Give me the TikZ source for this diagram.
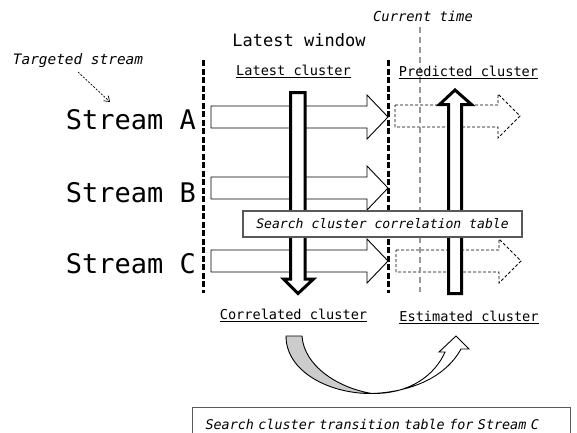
\documentclass[tikz,border=0pt]{standalone}
\usepackage{fontspec}
\setmainfont{DejaVu Sans Mono}
\usetikzlibrary{arrows.meta}

% horizontal block arrow: left x, head base x, tip x, centre y
\newcommand\blockarrow[5][]{%
  \draw[#1] ({#2},{#5-11}) -- ({#3},{#5-11}) -- ({#3},{#5-22}) -- ({#4},{#5})
    -- ({#3},{#5+22}) -- ({#3},{#5+11}) -- ({#2},{#5+11}) -- cycle;}

\begin{document}
\begin{tikzpicture}[x=1pt,y=-1pt,
  lbl/.style={inner sep=0pt, anchor=base, font=\fontsize{13.6}{15}\selectfont},
  note/.style={inner sep=0pt, anchor=base, font=\fontsize{14}{16}\selectfont\itshape},
  streamlbl/.style={inner sep=0pt, anchor=base east, font=\fontsize{27}{30}\selectfont},
  flow/.style={draw=black, line width=0.9pt, fill=white, line join=miter},
  flowdash/.style={draw=black, line width=0.8pt, dash pattern=on 3pt off 2pt},
  bigarrow/.style={draw=black, line width=3pt, fill=white, line join=miter},
  window/.style={draw=black, line width=3pt, dash pattern=on 6pt off 2.5pt},
  nowline/.style={draw=black!40, line width=1.4pt, dash pattern=on 6pt off 4pt},
  tablebox/.style={draw=black!65, line width=1.1pt, fill=white},
  uline/.style={line width=1.1pt}
]
\useasboundingbox (0,0) rectangle (577,432);

% stream flows inside the latest window
\blockarrow[flow]{211}{367}{388}{117}
\blockarrow[flow]{211}{367}{388}{188}
\blockarrow[flow]{211}{367}{388}{261}

% predicted flows
\blockarrow[flowdash]{395}{498}{520}{116}
\blockarrow[flowdash]{396}{499}{521}{261}

% window borders and current time
\coordinate (w1top) at (203,60);  \coordinate (w1bot) at (203,293);
\coordinate (w2top) at (388,60);  \coordinate (w2bot) at (388,293);
\coordinate (nowtop) at (420,27); \coordinate (nowbot) at (420,292);
\draw[window] (w1top) -- (w1bot);
\draw[window] (w2top) -- (w2bot);
\draw[nowline] (nowtop) -- (nowbot);

% correlation (down) and estimation (up) arrows
\draw[bigarrow] (290.5,92.5) -- (305,92.5) -- (305,279) -- (313.5,279)
  -- (298,293.5) -- (283.5,279) -- (290.5,279) -- cycle;
\draw[bigarrow] (448.5,293.5) -- (461.5,293.5) -- (461.5,104.5) -- (471.5,104.5)
  -- (455,90) -- (439.5,104.5) -- (448.5,104.5) -- cycle;

% curved transition arrow
\draw[fill=black!20, line width=0.9pt, line join=round]
  (286,336) -- (302,336) .. controls (304,366) and (338,388) .. (372,393.5)
  .. controls (330,394) and (286,372) .. (286,336) -- cycle;
\draw[fill=white, line width=0.9pt, line join=miter]
  (372,393.5) .. controls (410,394) and (435,375) .. (445,352) -- (439,352)
  -- (456,336) -- (469,349) -- (461,349)
  .. controls (445,378) and (410,392) .. (372,393.5) -- cycle;

% tables
\node[tablebox, minimum width=279pt, minimum height=26pt, inner sep=0pt,
      font=\fontsize{13.1}{15}\selectfont\itshape] (corr) at (382.5,224)
  {Search cluster correlation table};
\node[tablebox, anchor=north west, text width=352pt, inner xsep=13pt,
      minimum height=34pt, align=left,
      font=\fontsize{13.4}{15}\selectfont\itshape] (trans) at (192,407)
  {Search cluster transition table for Stream C};

% titles
\node[inner sep=0pt, anchor=base, font=\fontsize{17}{19}\selectfont] (win) at (299,46) {Latest window};
\node[note, font=\fontsize{13.8}{16}\selectfont\itshape] (now) at (423,21) {Current time};
\node[note, font=\fontsize{14.4}{16}\selectfont\itshape] (target) at (78,64) {Targeted stream};

% stream names
\node[streamlbl] (sa) at (196,129) {Stream A};
\node[streamlbl] (sb) at (196,202) {Stream B};
\node[streamlbl] (sc) at (196,273) {Stream C};

% pointer to the targeted stream
\coordinate (tgt) at (110,102);
\draw[line width=0.7pt, dash pattern=on 2pt off 1.5pt, -{Straight Barb[length=5pt,width=7pt]}]
  ([yshift=-8pt]target.base) -- (tgt);

% cluster labels
\node[lbl] (lc) at (293.5,75) {Latest cluster};
\node[lbl] (pc) at (468.5,76) {Predicted cluster};
\node[lbl] (cc) at (293.5,319) {Correlated cluster};
\node[lbl] (ec) at (469,321) {Estimated cluster};
\foreach \n in {lc,pc,cc,ec}
  \draw[uline] ([yshift=-2.5pt]\n.base west) -- ([yshift=-2.5pt]\n.base east);

\end{tikzpicture}
\end{document}
